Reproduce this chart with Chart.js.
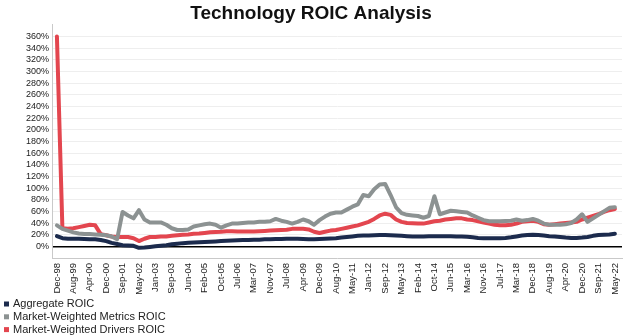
<!DOCTYPE html>
<html>
<head>
<meta charset="utf-8">
<title>Technology ROIC Analysis</title>
<script src="https://cdn.jsdelivr.net/npm/chart.js@4.4.0/dist/chart.umd.min.js"></script>
<style>
  html, body { margin: 0; padding: 0; background: #fff; }
  #roicChart { display: block; }
</style>
</head>
<body>
<canvas id="roicChart" width="630" height="336"></canvas>
<script>
// Axis labels, one every third observation
const tickLabels = ['Dec-98', 'Aug-99', 'Apr-00', 'Dec-00', 'Sep-01', 'May-02', 'Jan-03', 'Sep-03',
  'Jun-04', 'Feb-05', 'Oct-05', 'Jul-06', 'Mar-07', 'Nov-07', 'Jul-08', 'Apr-09', 'Dec-09',
  'Aug-10', 'May-11', 'Jan-12', 'Sep-12', 'May-13', 'Feb-14', 'Oct-14', 'Jun-15', 'Mar-16',
  'Nov-16', 'Jul-17', 'Mar-18', 'Dec-18', 'Aug-19', 'Apr-20', 'Dec-20', 'Sep-21', 'May-22'];
const pointsPerTick = 3;

// ROIC, percent
const aggregateRoic = [17.5, 14, 13, 13, 13, 12.5, 12, 12, 11, 9, 6, 4, 2, 1.5, 1, -2.5, -2, -1,
  0, 1, 2, 3.5, 4.5, 5.5, 6, 6.5, 7, 7.5, 8, 8.5, 9, 9.5, 10, 10.5, 11, 11, 11.5, 11.5, 12, 12,
  12.5, 12.5, 13, 13, 13, 12.5, 12, 12, 12.5, 13, 13.5, 14, 15, 16, 17, 18, 18.5, 18.5, 19, 19.5,
  19.5, 19, 18.5, 18, 17.5, 17, 17, 17, 17.5, 17.5, 17.5, 17.5, 17.5, 17, 17, 16.5, 15.5, 14.5,
  14, 14, 14, 14, 14.5, 15.5, 17, 18.5, 19.5, 20, 19.5, 18.5, 17.5, 17, 16, 15, 14.5, 14.5, 15,
  16, 18, 19.5, 20, 20.5, 21.5];
const metricsRoic = [36, 30, 27, 24, 22, 21, 21, 20.5, 20, 19, 17, 12, 59, 53, 48, 62, 46, 41,
  41, 41, 37, 31, 28, 28, 29, 34, 36, 38, 39, 37, 32, 36, 39, 39, 40, 41, 41, 42, 42, 43, 47, 44,
  42, 39, 42, 46, 43, 37, 45, 51, 56, 58, 58, 63, 68, 72, 88, 86, 98, 106, 107, 88, 67, 57, 54,
  53, 52, 49, 52, 86, 55, 58, 61, 60, 59, 58, 53, 49, 45, 43, 43, 43, 43.5, 44, 46, 44, 45, 47,
  44, 39, 37, 37, 37, 38, 40, 46, 55, 42, 48, 54, 60, 66, 67];
const driversRoic = [360, 31, 30, 31, 33, 35, 37, 36, 21, 19, 17, 16, 16, 16, 14, 9, 13, 16, 16,
  17, 17, 18, 19, 20, 20.5, 21.5, 22, 23, 24, 24.5, 25, 26, 26, 25.5, 25.5, 25.5, 25.5, 26, 26.5,
  27, 27.5, 28, 28.5, 30, 30, 30, 29, 25, 23, 25, 27, 28, 30, 32, 34, 36, 39, 42, 47, 53, 56, 54,
  46, 42, 40, 39.5, 39, 39, 41, 43, 44, 46, 47, 48, 48, 46, 45, 43, 41, 39, 37, 36, 36, 37, 39,
  42, 43, 44, 42, 38, 37, 38, 39, 40, 41, 42, 46, 49, 52, 55, 59, 62, 64];

const toPoints = (values) => values.map((v, i) => ({ x: i, y: v }));
const lastIndex = (tickLabels.length - 1) * pointsPerTick;

// Legend drawn as a single column under the axis labels
const columnLegend = {
  id: 'columnLegend',
  afterDraw(chart) {
    const ctx = chart.ctx;
    ctx.save();
    ctx.font = '11px "Liberation Sans", Arial, sans-serif';
    ctx.textBaseline = 'middle';
    chart.data.datasets.forEach((ds, i) => {
      const y = 304 + i * 12.8;
      ctx.fillStyle = ds.borderColor;
      ctx.fillRect(4, y - 2.5, 5, 5);
      ctx.fillStyle = '#222';
      ctx.fillText(ds.label, 13, y);
    });
    ctx.restore();
  }
};

const lineStyle = {
  borderWidth: 4,
  pointRadius: 0,
  pointHoverRadius: 0,
  tension: 0,
  borderJoinStyle: 'round',
  borderCapStyle: 'round',
  fill: false
};

const ctx = document.getElementById('roicChart').getContext('2d');
const roicChart = new Chart(ctx, {
  type: 'line',
  data: {
    datasets: [
      { label: 'Aggregate ROIC', data: toPoints(aggregateRoic), borderColor: '#1c2b4d', ...lineStyle },
      { label: 'Market-Weighted Metrics ROIC', data: toPoints(metricsRoic), borderColor: '#8c9292', ...lineStyle },
      { label: 'Market-Weighted Drivers ROIC', data: toPoints(driversRoic), borderColor: '#e3464f', ...lineStyle }
    ]
  },
  options: {
    responsive: false,
    animation: false,
    devicePixelRatio: 1,
    layout: { padding: { left: 0, right: 8, top: 0, bottom: 38 } },
    plugins: {
      legend: { display: false },
      tooltip: { enabled: false },
      title: {
        display: true,
        text: 'Technology ROIC Analysis',
        color: '#111',
        font: { family: '"Liberation Sans", Arial, sans-serif', size: 19, weight: 'bold' },
        padding: { top: 2, bottom: 0 }
      }
    },
    scales: {
      x: {
        type: 'linear',
        min: -0.9,
        max: lastIndex + 1.3,
        afterBuildTicks: (scale) => {
          scale.ticks = tickLabels.map((_, k) => ({ value: k * pointsPerTick }));
        },
        afterFit: (scale) => { scale.height = 40; },
        grid: { display: false },
        border: { display: true, color: '#c9c9c9', width: 1 },
        ticks: {
          autoSkip: false,
          minRotation: 90,
          maxRotation: 90,
          padding: -3,
          color: '#222',
          font: { family: '"Liberation Sans", Arial, sans-serif', size: 9.5 },
          callback: (value) => tickLabels[Math.round(value / pointsPerTick)]
        }
      },
      y: {
        min: -20,
        max: 380,
        afterFit: (scale) => { scale.width = 52; },
        border: { display: true, color: '#c9c9c9', width: 1 },
        grid: {
          drawTicks: false,
          color: (c) => {
            const v = c.tick.value;
            if (v === 0) return '#000';
            if (v === -20 || v === 380) return 'rgba(0,0,0,0)';
            return '#eeeeee';
          },
          lineWidth: (c) => (c.tick.value === 0 ? 1.5 : 1)
        },
        ticks: {
          autoSkip: false,
          stepSize: 20,
          padding: 3,
          color: '#222',
          font: { family: '"Liberation Sans", Arial, sans-serif', size: 9 },
          callback: (value) => (value < 0 || value > 360 ? '' : value + '%')
        }
      }
    }
  },
  plugins: [columnLegend]
});
</script>
</body>
</html>
